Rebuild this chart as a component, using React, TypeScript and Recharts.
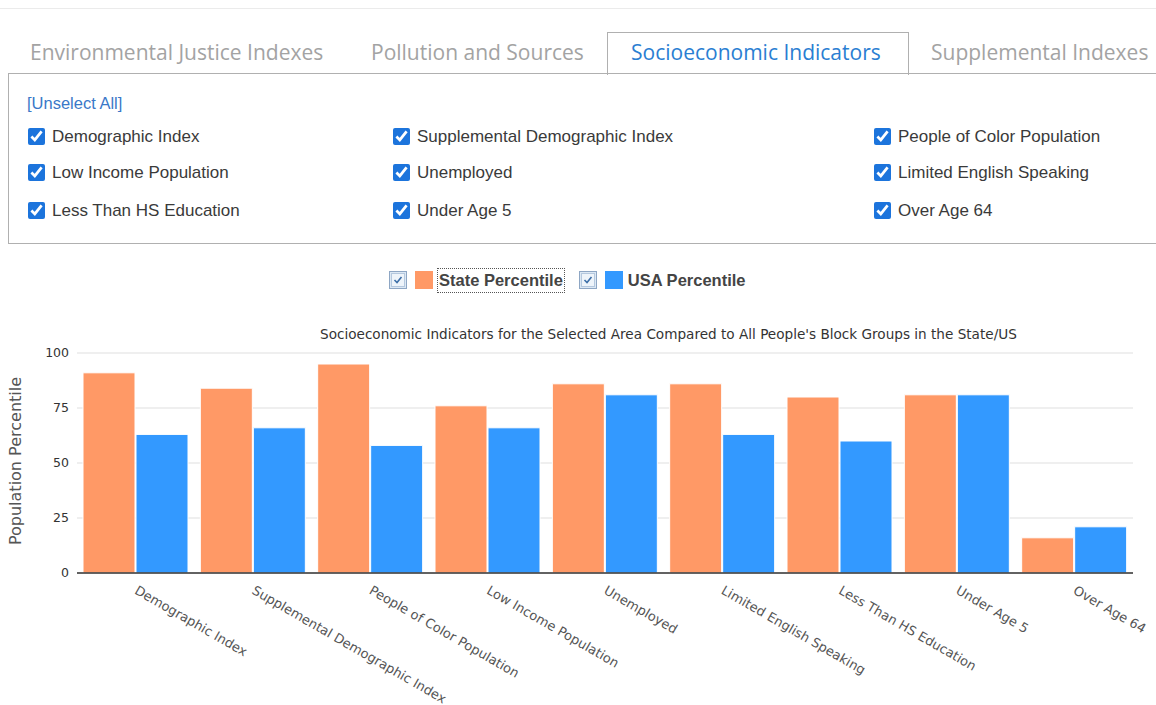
import React from 'react';
import { BarChart, Bar, XAxis, YAxis, CartesianGrid, Label } from 'recharts';

const tabs = ['Environmental Justice Indexes', 'Pollution and Sources', 'Socioeconomic Indicators', 'Supplemental Indexes'];
const tabX = [30, 371, 631, 931];
const activeTab = 2;

const filterCol1 = ['Demographic Index', 'Low Income Population', 'Less Than HS Education'];
const filterCol2 = ['Supplemental Demographic Index', 'Unemployed', 'Under Age 5'];
const filterCol3 = ['People of Color Population', 'Limited English Speaking', 'Over Age 64'];

const categories = [
  'Demographic Index',
  'Supplemental Demographic Index',
  'People of Color Population',
  'Low Income Population',
  'Unemployed',
  'Limited English Speaking',
  'Less Than HS Education',
  'Under Age 5',
  'Over Age 64',
];
const statePct = [91, 84, 95, 76, 86, 86, 80, 81, 16];
const usaPct = [63, 66, 58, 66, 81, 63, 60, 81, 21];
const yTicks = [0, 25, 50, 75, 100];

const STATE = '#ff9966';
const USA = '#3399ff';

const chartData = categories.map((name, i) => ({ name, state: statePct[i], usa: usaPct[i] }));

const LegendBox = () => (
  <svg width={18} height={18} style={{ display: 'block' }}>
    <rect x={0.5} y={0.5} width={17} height={17} fill="#dce8f4" stroke="#8ea6c4" />
    <rect x={2.5} y={2.5} width={13} height={13} fill="#eef4fa" stroke="#b5c8de" />
    <path d="M5.5 9 L8 11.5 L12.5 6" fill="none" stroke="#3d6fa8" strokeWidth={1.6} />
  </svg>
);

const XTick = (props: any) => {
  const { x, y, payload } = props;
  return (
    <g transform={`translate(${x - 2},${y + 12})`}>
      <text
        x={0}
        y={0}
        transform="rotate(30)"
        textAnchor="start"
        fontFamily="DejaVu Sans"
        fontSize={13}
        fill="#555"
      >
        {payload.value}
      </text>
    </g>
  );
};

const FilterItem = ({ label, x, y }: { label: string; x: number; y: number }) => (
  <div style={{ position: 'absolute', left: x, top: y, display: 'flex', alignItems: 'center' }}>
    <input
      type="checkbox"
      checked
      readOnly
      style={{ width: 17, height: 17, margin: 0, accentColor: '#1c74dc' }}
    />
    <span style={{ marginLeft: 7, marginTop: 2, fontFamily: 'Liberation Sans', fontSize: 17, color: '#3a3a3a' }}>{label}</span>
  </div>
);

export default function App() {
  const rowsY = [125, 161, 199];
  return (
    <div style={{ position: 'absolute', left: 0, top: 0, width: 1156, height: 705, background: '#fff', overflow: 'hidden' }}>
      <div style={{ position: 'absolute', left: 0, top: 8, width: 1156, height: 1, background: '#ebebeb' }} />

      {/* tabs */}
      <div
        style={{
          position: 'absolute',
          left: 607,
          top: 32,
          width: 300,
          height: 42,
          border: '1px solid #b0b0b0',
          borderBottom: 'none',
          background: '#fff',
        }}
      />
      {tabs.map((t, i) => (
        <div
          key={t}
          style={{
            position: 'absolute',
            left: tabX[i],
            top: 38,
            fontFamily: 'Open Sans',
            fontSize: 21,
            color: i === activeTab ? '#2a7ed2' : '#a3a3a3',
            whiteSpace: 'nowrap',
          }}
        >
          {t}
        </div>
      ))}

      {/* filter panel */}
      <div
        style={{
          position: 'absolute',
          left: 8,
          top: 73,
          width: 1200,
          height: 171,
          border: '1px solid #b0b0b0',
          boxSizing: 'border-box',
        }}
      />
      <div style={{ position: 'absolute', left: 27, top: 94, fontFamily: 'Liberation Sans', fontSize: 16.5, color: '#3a78c8' }}>
        [Unselect All]
      </div>
      {filterCol1.map((f, i) => (
        <FilterItem key={f} label={f} x={28} y={rowsY[i]} />
      ))}
      {filterCol2.map((f, i) => (
        <FilterItem key={f} label={f} x={393} y={rowsY[i]} />
      ))}
      {filterCol3.map((f, i) => (
        <FilterItem key={f} label={f} x={874} y={rowsY[i]} />
      ))}

      {/* legend */}
      <div style={{ position: 'absolute', left: 389, top: 267, display: 'flex', alignItems: 'center', height: 26 }}>
        <LegendBox />
        <div style={{ width: 18, height: 18, background: STATE, marginLeft: 8 }} />
        <div
          style={{
            marginLeft: 4,
            padding: '2px 1px',
            border: '1px dotted #555',
            fontFamily: 'Liberation Sans',
            fontWeight: 'bold',
            fontSize: 16.5,
            color: '#444',
          }}
        >
          State Percentile
        </div>
        <div style={{ marginLeft: 14 }}>
          <LegendBox />
        </div>
        <div style={{ width: 18, height: 18, background: USA, marginLeft: 8 }} />
        <div
          style={{
            marginLeft: 5,
            fontFamily: 'Liberation Sans',
            fontWeight: 'bold',
            fontSize: 16.5,
            color: '#444',
          }}
        >
          USA Percentile
        </div>
      </div>

      {/* chart title */}
      <div
        style={{
          position: 'absolute',
          left: 320,
          top: 326,
          fontFamily: 'DejaVu Sans',
          fontSize: 13.6,
          color: '#333',
          whiteSpace: 'nowrap',
        }}
      >
        Socioeconomic Indicators for the Selected Area Compared to All People's Block Groups in the State/US
      </div>

      <div style={{ position: 'absolute', left: 0, top: 300 }}>
        <BarChart
          width={1156}
          height={405}
          data={chartData}
          margin={{ top: 53, right: 23, left: 0, bottom: 32 }}
          barCategoryGap={6}
          barGap={1}
        >
          <CartesianGrid vertical={false} stroke="#dfdfdf" />
          <XAxis
            dataKey="name"
            interval={0}
            height={100}
            tick={<XTick />}
            tickLine={false}
            axisLine={{ stroke: '#333', strokeWidth: 1.5 }}
          />
          <YAxis
            width={77}
            domain={[0, 100]}
            ticks={yTicks}
            tickLine={false}
            axisLine={false}
            tick={{ fontFamily: 'DejaVu Sans', fontSize: 12.5, fill: '#333' }}
          >
            <Label
              content={(p: any) => {
                const vb = p.viewBox || { x: 0, y: 53, width: 77, height: 220 };
                const cx = 15;
                const cy = vb.y + vb.height / 2 - 2;
                return (
                  <text
                    x={cx}
                    y={cy}
                    transform={`rotate(-90 ${cx} ${cy})`}
                    textAnchor="middle"
                    dominantBaseline="central"
                    fontFamily="DejaVu Sans"
                    fontSize={16}
                    fill="#555"
                  >
                    Population Percentile
                  </text>
                );
              }}
            />
          </YAxis>
          <Bar dataKey="state" name="State Percentile" fill={STATE} stroke="#fff" strokeWidth={1} isAnimationActive={false} />
          <Bar dataKey="usa" name="USA Percentile" fill={USA} stroke="#fff" strokeWidth={1} isAnimationActive={false} />
        </BarChart>
      </div>
    </div>
  );
}
